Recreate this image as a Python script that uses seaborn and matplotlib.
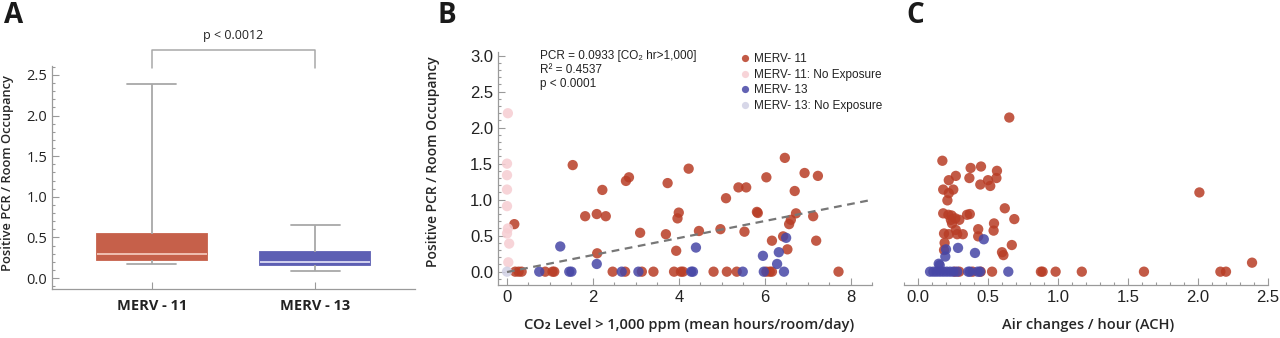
import numpy as np
import pandas as pd
import matplotlib
matplotlib.use("Agg")
import matplotlib.pyplot as plt
from matplotlib.ticker import MultipleLocator
import seaborn as sns

# ================= DATA =================
# Panel A: five-number summary per filter (min, q1, median, q3, max)
FILTERS = ["MERV - 11", "MERV - 13"]
merv11_summary = [0.17, 0.22, 0.29, 0.54, 2.39]
merv13_summary = [0.09, 0.16, 0.20, 0.32, 0.65]
P_BOX = "p < 0.0012"

# Panel B: CO2 hours > 1,000 ppm vs positive PCR / occupancy
b_m11_x = [0.17, 1.53, 1.82, 2.09, 2.30, 2.22, 2.77, 2.84, 3.10, 2.10,
           3.70, 3.74, 3.94, 3.97, 4.00, 4.23, 4.47, 4.97, 5.10, 5.39,
           5.57, 5.53, 5.82, 5.84, 6.04, 6.17, 6.43, 6.47, 6.53, 6.57,
           6.61, 6.70, 6.73, 6.93, 7.13, 7.20, 7.24,
           0.19, 0.27, 0.34, 0.89, 1.06, 1.10, 2.46, 2.75, 3.14, 3.41,
           3.89, 4.05, 4.10, 4.81, 5.12, 5.35, 6.04, 6.12, 6.17, 7.72]
b_m11_y = [0.66, 1.48, 0.77, 0.80, 0.77, 1.135, 1.26, 1.31, 0.54, 0.255,
           0.52, 1.23, 0.29, 0.74, 0.82, 1.43, 0.565, 0.59, 1.02, 1.17,
           1.17, 0.555, 0.83, 0.815, 1.31, 0.43, 0.49, 1.58, 0.31, 0.66,
           0.72, 1.12, 0.81, 1.37, 0.77, 0.43, 1.33,
           0, 0, 0, 0, 0, 0, 0, 0, 0, 0,
           0, 0, 0, 0, 0, 0, 0, 0, 0, 0]
b_m11_none_x = [0.02, 0.0, 0.0, 0.0, 0.0, 0.02, 0.0, 0.05, 0.03]
b_m11_none_y = [2.20, 1.50, 1.34, 1.14, 0.91, 0.60, 0.53, 0.39, 0.13]
b_m13_x = [1.24, 2.09, 4.40, 5.96, 6.29, 6.33, 6.50,
           0.75, 1.45, 1.50, 2.67, 3.06, 4.29, 4.33, 5.49, 5.98, 6.45]
b_m13_y = [0.35, 0.107, 0.335, 0.22, 0.107, 0.27, 0.47,
           0, 0, 0, 0, 0, 0, 0, 0, 0, 0]
b_m13_none_x = [0.0]
b_m13_none_y = [0.0]
FIT_SLOPE = 0.118
FIT_INTERCEPT = -0.005
FIT_TEXT = ["PCR = 0.0933 [CO₂ hr>1,000]", "R² = 0.4537", "p < 0.0001"]

# Panel C: air changes per hour vs positive PCR / occupancy
c_m11_x = [0.652, 0.174, 0.376, 0.45, 0.564, 0.27, 0.22, 0.367, 0.50, 0.445,
           0.516, 0.56, 0.18, 0.252, 0.22, 0.21, 0.62, 0.18, 0.217, 0.24,
           0.235, 0.267, 0.295, 0.35, 0.37, 0.688, 0.243, 0.543, 0.54, 0.43,
           0.186, 0.22, 0.27, 0.28, 0.32, 0.43, 0.19, 0.67, 0.186, 0.60,
           0.61, 2.01, 2.386,
           0.264, 0.295, 0.39, 0.448, 0.529, 0.878, 0.89, 0.983, 1.17, 1.614,
           2.16, 2.20]
c_m11_y = [2.14, 1.54, 1.44, 1.46, 1.40, 1.33, 1.27, 1.30, 1.27, 1.21,
           1.19, 1.30, 1.14, 1.14, 1.09, 0.99, 0.88, 0.81, 0.79, 0.78,
           0.72, 0.74, 0.72, 0.79, 0.80, 0.73, 0.67, 0.67, 0.57, 0.59,
           0.53, 0.52, 0.58, 0.52, 0.52, 0.49, 0.40, 0.37, 0.30, 0.27,
           0.23, 1.10, 0.125,
           0, 0, 0, 0, 0, 0, 0, 0, 0, 0,
           0, 0]
c_m13_x = [0.47, 0.286, 0.20, 0.407, 0.195, 0.148, 0.155,
           0.086, 0.11, 0.133, 0.157, 0.181, 0.205, 0.229, 0.252, 0.28, 0.359,
           0.371, 0.426, 0.443, 0.645]
c_m13_y = [0.45, 0.33, 0.31, 0.26, 0.21, 0.11, 0.09,
           0, 0, 0, 0, 0, 0, 0, 0, 0, 0,
           0, 0, 0, 0]

# ================= STYLE =================
RED = (0.72, 0.24, 0.15)
BLUE = (0.28, 0.28, 0.65)
PINK = "#f6cdd2"
LAVENDER = "#d0d0e4"
BOX_RED = "#c6604a"
BOX_BLUE = "#5d5fb3"
AXIS_GRAY = "#9a9a9a"
TICK_FONT = ["Liberation Sans", "DejaVu Sans"]
LABEL_FONT = ["Open Sans", "DejaVu Sans"]

sns.set_style("white")
plt.rcParams["font.family"] = TICK_FONT

fig = plt.figure(figsize=(12.8, 3.38), dpi=100)
ax_a = fig.add_axes([52 / 1280, 1 - 289 / 338, 363 / 1280, 223 / 338])
ax_b = fig.add_axes([498 / 1280, 1 - 285 / 338, 374 / 1280, 233 / 338])
ax_c = fig.add_axes([904 / 1280, 1 - 285 / 338, 364 / 1280, 233 / 338])


def style_axis(ax):
    for side in ["top", "right"]:
        ax.spines[side].set_visible(False)
    for side in ["left", "bottom"]:
        ax.spines[side].set_color(AXIS_GRAY)
        ax.spines[side].set_linewidth(0.9)
    ax.tick_params(which="both", direction="in", color=AXIS_GRAY, width=0.8,
                   labelcolor="#222222", bottom=True, left=True)
    ax.tick_params(which="major", length=5, labelsize=11)
    ax.tick_params(which="minor", length=2.5)


# ================= PANEL A =================
df_a = pd.DataFrame({
    "filter": [FILTERS[0]] * len(merv11_summary) + [FILTERS[1]] * len(merv13_summary),
    "pcr": merv11_summary + merv13_summary,
})
sns.boxplot(data=df_a, x="filter", y="pcr", hue="filter",
            palette=[BOX_RED, BOX_BLUE], whis=(0, 100), width=0.67,
            linecolor="#a8a8a8", linewidth=1.3, capwidths=0.3,
            legend=False, ax=ax_a)
median_colors = ["#f3c7b9", "#dcdcf5"]
for cont, box_color, med_color in zip(ax_a.containers, [BOX_RED, BOX_BLUE], median_colors):
    for box in cont.boxes:
        box.set_edgecolor(box_color)
        box.set_facecolor(box_color)
    for med in cont.medians:
        med.set_color(med_color)
        med.set_linewidth(1.3)

style_axis(ax_a)
ax_a.set_xlim(-0.61, 1.61)
ax_a.set_ylim(-0.135, 2.61)
ax_a.yaxis.set_major_locator(MultipleLocator(0.5))
ax_a.yaxis.set_minor_locator(MultipleLocator(0.1))
ax_a.tick_params(axis="y", labelsize=10.5)
for lab in ax_a.get_yticklabels():
    lab.set_family(LABEL_FONT)
ax_a.set_xlabel("")
ax_a.set_xticks(range(len(FILTERS)))
ax_a.set_xticklabels(FILTERS, family=LABEL_FONT, fontweight="bold", fontsize=10.5)
ax_a.tick_params(axis="x", pad=7)
ax_a.set_ylabel("Positive PCR / Room Occupancy", family=LABEL_FONT,
                fontweight="semibold", fontsize=9.3)
ax_a.yaxis.set_label_coords(-0.104, 0.52)

# significance bracket
y_top, y_drop = 2.81, 2.59
ax_a.plot([0, 0, 1, 1], [y_drop, y_top, y_top, y_drop], color="#a8a8a8",
          lw=1.1, clip_on=False)
ax_a.text(0.5, y_top + 0.17, P_BOX, ha="center", va="center", fontsize=9,
          family=LABEL_FONT, color="#222222")

# ================= PANEL B =================
df_b = pd.DataFrame({
    "co2": b_m11_x + b_m11_none_x + b_m13_x + b_m13_none_x,
    "pcr": b_m11_y + b_m11_none_y + b_m13_y + b_m13_none_y,
    "group": (["MERV- 11"] * len(b_m11_x)
              + ["MERV- 11: No Exposure"] * len(b_m11_none_x)
              + ["MERV- 13"] * len(b_m13_x)
              + ["MERV- 13: No Exposure"] * len(b_m13_none_x)),
})
palette_b = {"MERV- 11": RED, "MERV- 11: No Exposure": PINK,
             "MERV- 13": BLUE, "MERV- 13: No Exposure": LAVENDER}
sns.scatterplot(data=df_b, x="co2", y="pcr", hue="group", palette=palette_b,
                s=55, alpha=0.85, edgecolor="none", ax=ax_b)

fit_x = np.array([0.0, 8.5])
ax_b.plot(fit_x, FIT_INTERCEPT + FIT_SLOPE * fit_x, ls=(0, (3.5, 2.5)),
          color="#777777", lw=1.6, zorder=3)

style_axis(ax_b)
ax_b.set_xlim(-0.21, 8.5)
ax_b.set_ylim(-0.185, 3.05)
ax_b.xaxis.set_major_locator(MultipleLocator(2))
ax_b.xaxis.set_minor_locator(MultipleLocator(0.5))
ax_b.yaxis.set_major_locator(MultipleLocator(0.5))
ax_b.yaxis.set_minor_locator(MultipleLocator(0.1))
ax_b.tick_params(labelsize=12)
ax_b.set_xlabel("CO₂ Level > 1,000 ppm (mean hours/room/day)", family=LABEL_FONT,
                fontweight="semibold", fontsize=10.5)
ax_b.xaxis.set_label_coords(0.511, -0.14)
ax_b.set_ylabel("Positive PCR / Room Occupancy", family=LABEL_FONT,
                fontweight="semibold", fontsize=10)
ax_b.yaxis.set_label_coords(-0.155, 0.528)

for i, line in enumerate(FIT_TEXT):
    ax_b.text(0.112, 0.984 - i * 0.06, line, transform=ax_b.transAxes,
              ha="left", va="center", fontsize=8.5, color="#222222")

leg = ax_b.legend(loc="upper left", bbox_to_anchor=(0.625, 1.02), frameon=False,
                  fontsize=8.5, handletextpad=0.2, labelspacing=0.3,
                  borderpad=0, markerscale=0.7, handlelength=1.2)
for t in leg.get_texts():
    t.set_color("#222222")

# ================= PANEL C =================
df_c = pd.DataFrame({
    "ach": c_m11_x + c_m13_x,
    "pcr": c_m11_y + c_m13_y,
    "group": ["MERV- 11"] * len(c_m11_x) + ["MERV- 13"] * len(c_m13_x),
})
sns.scatterplot(data=df_c, x="ach", y="pcr", hue="group",
                palette={"MERV- 11": RED, "MERV- 13": BLUE},
                s=55, alpha=0.85, edgecolor="none", legend=False, ax=ax_c)
style_axis(ax_c)
ax_c.spines["left"].set_visible(False)
ax_c.set_yticks([])
ax_c.tick_params(left=False)
ax_c.set_xlim(-0.1, 2.5)
ax_c.set_ylim(-0.185, 3.05)
ax_c.xaxis.set_major_locator(MultipleLocator(0.5))
ax_c.xaxis.set_minor_locator(MultipleLocator(0.1))
ax_c.tick_params(labelsize=12)
ax_c.set_ylabel("")
ax_c.set_xlabel("Air changes / hour (ACH)", family=LABEL_FONT,
                fontweight="semibold", fontsize=10.5)
ax_c.xaxis.set_label_coords(0.505, -0.14)

# ================= PANEL LETTERS =================
for x_px, letter in [(4, "A"), (437, "B"), (906, "C")]:
    fig.text(x_px / 1280, 1 - 1 / 338, letter, ha="left", va="top",
             fontsize=20, fontweight="bold", family=LABEL_FONT, color="#1a1a1a")

plt.savefig("out.png", dpi=100)
